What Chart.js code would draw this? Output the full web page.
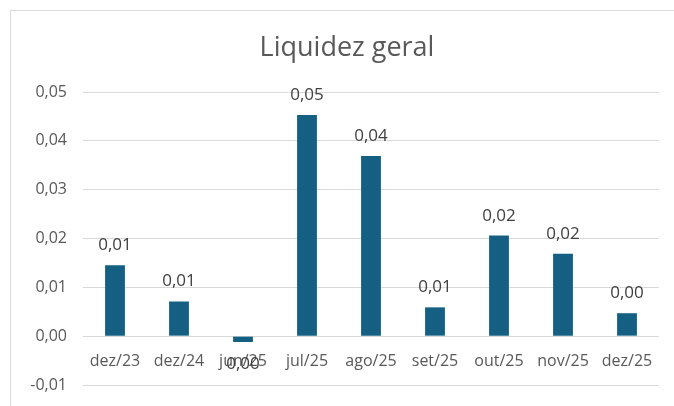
<!DOCTYPE html>
<html>
<head>
<meta charset="utf-8">
<script src="https://cdn.jsdelivr.net/npm/chart.js@4/dist/chart.umd.min.js"></script>
<style>
  html, body { margin: 0; padding: 0; background: #fff; overflow: hidden; }
  #wrap { position: relative; width: 674px; height: 406px; }
  #frame {
    position: absolute; left: 10px; top: 10px; width: 700px; height: 400px;
    border: 1px solid #d9d9d9; pointer-events: none;
  }
  canvas { position: absolute; left: 0; top: 0; }
</style>
</head>
<body>
<div id="wrap">
  <canvas id="chart" width="674" height="406"></canvas>
  <div id="frame"></div>
</div>
<script>
const titulo = "Liquidez geral";
const categorias = ["dez/23", "dez/24", "jun/25", "jul/25", "ago/25", "set/25", "out/25", "nov/25", "dez/25"];
const liquidez = [0.0145, 0.0071, -0.0012, 0.0453, 0.0369, 0.0059, 0.0206, 0.0169, 0.0047];
const eixoY = { min: -0.01, max: 0.05, passo: 0.01 };

const FONTE = "'Open Sans', sans-serif";

function formatar(v) {
  let s = v.toFixed(2);
  if (s === "-0.00") s = "0.00";
  return s.replace(".", ",");
}

// titulo centrado na moldura (como no Excel), nao na area do grafico
const tituloPlugin = {
  id: "tituloMoldura",
  afterDraw(chart) {
    const ctx = chart.ctx;
    ctx.save();
    ctx.font = "27px " + FONTE;
    ctx.fillStyle = "#595959";
    ctx.textAlign = "center";
    ctx.textBaseline = "alphabetic";
    ctx.fillText(titulo, 347, 56);
    ctx.restore();
  }
};

// rotulos de dados acima (ou abaixo) de cada barra
const rotulos = {
  id: "rotulos",
  afterDatasetsDraw(chart) {
    const ctx = chart.ctx;
    const meta = chart.getDatasetMeta(0);
    ctx.save();
    ctx.font = "17px " + FONTE;
    ctx.fillStyle = "#404040";
    ctx.textAlign = "center";
    ctx.textBaseline = "alphabetic";
    meta.data.forEach((bar, i) => {
      const v = liquidez[i];
      const y = v >= 0 ? bar.y - 15 : bar.y + 27;
      ctx.fillText(formatar(v), bar.x, y);
    });
    ctx.restore();
  }
};

new Chart(document.getElementById("chart"), {
  type: "bar",
  data: {
    labels: categorias,
    datasets: [{
      data: liquidez,
      backgroundColor: "#156082",
      categoryPercentage: 1,
      barPercentage: 0.31
    }]
  },
  options: {
    responsive: false,
    animation: false,
    layout: { padding: { left: 0, top: 92, right: 15, bottom: 21 } },
    plugins: {
      legend: { display: false },
      tooltip: { enabled: false },
      title: { display: false }
    },
    scales: {
      x: {
        position: { y: 0 },
        afterFit(scale) { scale.height = 0; },
        grid: { display: false, drawTicks: false },
        border: { display: false },
        ticks: {
          color: "#595959",
          font: { family: FONTE, size: 16 },
          padding: 16,
          maxRotation: 0,
          autoSkip: false
        }
      },
      y: {
        min: eixoY.min,
        max: eixoY.max,
        afterFit(scale) {
          scale.width = 83;
          scale.paddingTop = 0;
          scale.paddingBottom = 0;
        },
        grid: { color: "#d9d9d9", lineWidth: 1, drawTicks: false },
        border: { display: false },
        ticks: {
          stepSize: eixoY.passo,
          color: "#595959",
          font: { family: FONTE, size: 16 },
          padding: 16,
          callback: (v) => formatar(v)
        }
      }
    }
  },
  plugins: [rotulos, tituloPlugin]
});
</script>
</body>
</html>
